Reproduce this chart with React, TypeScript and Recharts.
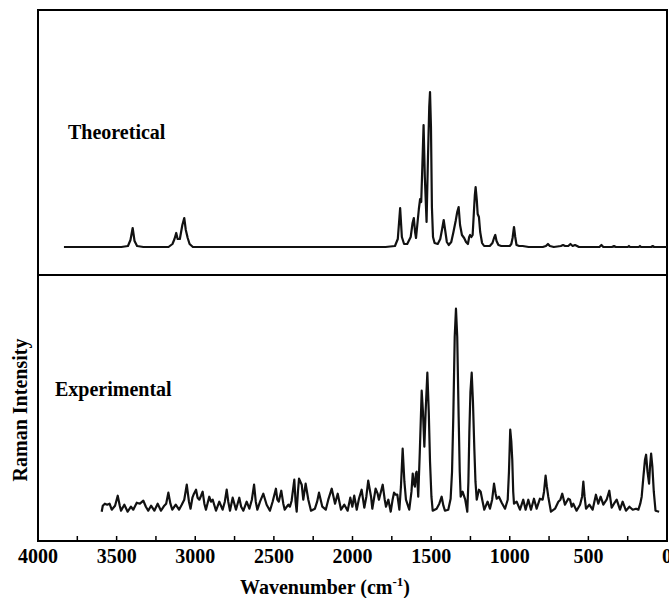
import React from 'react';
import { LineChart, Line, XAxis, YAxis, ReferenceArea } from 'recharts';

const FONT = "'Liberation Serif', 'Times New Roman', serif";

// Theoretical spectrum (wavenumber cm-1, intensity in arbitrary units)
const theoWavenumber = [
  3835, 3470, 3428, 3412, 3398, 3386, 3370, 3330,
  3170, 3145, 3132, 3121, 3112, 3098, 3082, 3070, 3060, 3048, 3036, 3015,
  1790, 1730, 1712, 1697, 1686, 1672, 1652, 1630, 1618, 1610, 1602, 1596, 1588, 1578, 1570, 1563,
  1556, 1548, 1540, 1529, 1520, 1512, 1507, 1501, 1495, 1488, 1478, 1458, 1442, 1430, 1420, 1410,
  1400, 1388, 1372, 1358, 1344, 1334, 1325, 1316, 1304, 1290, 1278, 1266, 1258, 1252, 1244, 1236,
  1228, 1222, 1217, 1210, 1204, 1196, 1188, 1176, 1163, 1127, 1110, 1100, 1092, 1084, 1072, 1054,
  1000, 990, 982, 973, 965, 957, 940, 918, 880, 790, 770, 757, 745, 720, 675, 661, 648, 628, 614,
  600, 585, 572, 560, 430, 417, 405, 350, 337, 325, 250, 242, 235, 180, 172, 165, 100, 91, 82, 0,
];
const theoIntensity = [
  0, 0, 1, 7, 19, 6, 1, 0,
  0, 3, 8, 14, 8, 8, 22, 29, 17, 9, 3, 0,
  0, 1, 8, 39, 10, 3, 3, 10, 24, 29, 15, 9, 22, 38, 48, 45,
  80, 122, 70, 25, 90, 140, 155, 120, 40, 10, 4, 3, 8, 18, 27, 16,
  5, 2, 5, 15, 26, 35, 40, 22, 12, 9, 5, 3, 10, 12, 10, 12,
  35, 52, 60, 48, 33, 30, 15, 4, 1, 1, 4, 9, 12, 6, 2, 1,
  1, 3, 9, 20, 10, 2, 1, 1, 0, 0, 1, 3, 1, 0, 1, 2, 1, 1, 3,
  1, 2, 1, 0, 0, 2, 0, 0, 1, 0, 0, 1, 0, 0, 1, 0, 0, 1, 0, 0,
];

// Experimental spectrum
const expWavenumber = [
  3595, 3588, 3575, 3560, 3545, 3531, 3510, 3493, 3480, 3472, 3451, 3430, 3409, 3394, 3372, 3352,
  3330, 3314, 3299, 3281, 3260, 3239, 3218, 3197, 3185, 3171, 3158, 3146, 3124, 3103, 3086, 3070,
  3054, 3040, 3030, 3018, 3008, 2995, 2985, 2974, 2963, 2953, 2942, 2932, 2911, 2900, 2889, 2868,
  2847, 2826, 2812, 2800, 2790, 2779, 2762, 2741, 2720, 2708, 2694, 2673, 2656, 2640, 2626, 2615,
  2605, 2588, 2567, 2546, 2525, 2508, 2487, 2478, 2469, 2453, 2440, 2431, 2418, 2408, 2398, 2387,
  2370, 2362, 2355, 2347, 2340, 2323, 2313, 2298, 2281, 2264, 2239, 2225, 2213, 2192, 2170, 2154,
  2132, 2111, 2094, 2073, 2052, 2031, 2014, 2001, 1989, 1973, 1959, 1942, 1925, 1912, 1900, 1890,
  1882, 1874, 1853, 1840, 1832, 1808, 1795, 1787, 1772, 1757, 1745, 1736, 1725, 1715, 1702, 1692,
  1681, 1670, 1660, 1639, 1625, 1617, 1610, 1603, 1597, 1592, 1587, 1582, 1572, 1560, 1552, 1543,
  1535, 1524, 1515, 1507, 1498, 1490, 1465, 1448, 1433, 1422, 1412, 1391, 1376, 1367, 1359, 1350,
  1342, 1334, 1325, 1318, 1312, 1300, 1283, 1270, 1263, 1257, 1250, 1242, 1234, 1225, 1218, 1210,
  1196, 1185, 1175, 1162, 1141, 1126, 1112, 1100, 1090, 1083, 1069, 1051, 1030, 1013, 1005, 997,
  990, 984, 978, 973, 956, 935, 914, 899, 882, 865, 846, 829, 808, 791, 782, 772,
  764, 755, 738, 712, 691, 678, 666, 649, 628, 617, 606, 596, 575, 553, 540, 532,
  524, 515, 494, 473, 452, 437, 422, 405, 384, 367, 352, 337, 320, 299, 282, 261,
  239, 218, 197, 182, 170, 161, 150, 140, 133, 124, 114, 108, 101, 93, 84, 73, 50,
];
const expIntensity = [
  0, 6, 8, 7, 8, 2, 6, 16, 6, 1, 7, 0, 5, 2, 9, 8,
  11, 5, 1, 6, 1, 8, 1, 6, 8, 19, 8, 2, 7, 2, 7, 12,
  27, 10, 3, 14, 18, 22, 14, 12, 16, 20, 8, 2, 15, 10, 12, 1,
  10, 2, 10, 22, 10, 1, 14, 2, 14, 5, 1, 10, 3, 12, 27, 10,
  2, 10, 18, 7, 1, 10, 23, 12, 10, 21, 8, 2, 5, 7, 5, 11,
  32, 10, 0, 20, 33, 27, 12, 28, 12, 1, 3, 10, 19, 5, 2, 12,
  23, 8, 18, 2, 7, 1, 14, 5, 16, 2, 13, 22, 4, 15, 31, 22,
  15, 3, 23, 18, 12, 27, 12, 5, 12, 0, 12, 19, 17, 17, 2, 25,
  63, 30, 12, 2, 20, 38, 28, 25, 38, 40, 30, 15, 60, 121, 100, 65,
  100, 139, 100, 50, 15, 1, 3, 8, 15, 6, 1, 2, 13, 40, 95, 175,
  203, 175, 95, 40, 15, 20, 12, 0, 30, 79, 120, 139, 110, 62, 30, 12,
  22, 20, 12, 2, 10, 3, 12, 28, 18, 13, 15, 9, 3, 12, 40, 82,
  70, 52, 20, 8, 10, 2, 12, 2, 12, 2, 13, 3, 13, 12, 20, 36,
  25, 15, 0, 3, 10, 12, 18, 7, 13, 12, 5, 8, 1, 7, 15, 30,
  15, 3, 7, 2, 17, 8, 15, 7, 12, 21, 4, 8, 12, 2, 10, 1,
  5, 2, 3, 2, 8, 15, 35, 52, 57, 40, 28, 45, 58, 45, 20, 1, 0,
];

const xTicks = [4000, 3750, 3500, 3250, 3000, 2750, 2500, 2250, 2000, 1750, 1500, 1250, 1000, 750, 500, 250, 0];
const labeledTicks = [4000, 3500, 3000, 2500, 2000, 1500, 1000, 500, 0];

const theoData = theoWavenumber.map((w, i) => ({ w, v: theoIntensity[i] }));
const expData = expWavenumber.map((w, i) => ({ w, v: expIntensity[i] }));

const THEO_DOMAIN: [number, number] = [-28, 237];
const EXP_DOMAIN: [number, number] = [-29.3, 236.7];

const BottomTick = (props: any) => {
  const { x, y, payload } = props;
  const v = payload.value;
  return (
    <g>
      <line x1={x} x2={x} y1={y} y2={y - 5} stroke="#000" strokeWidth={1.5} />
      {labeledTicks.includes(v) && (
        <text x={x} y={y + 22} textAnchor="middle" fontFamily={FONT} fontWeight="bold" fontSize={20} fill="#000">
          {v}
        </text>
      )}
    </g>
  );
};

const TopTick = (props: any) => {
  const { x, y } = props;
  return <line x1={x} x2={x} y1={y} y2={y + 5} stroke="#000" strokeWidth={1.5} />;
};

export default function App() {
  return (
    <div style={{ position: 'absolute', left: 0, top: 0, width: 669, height: 598, background: '#fff', overflow: 'hidden' }}>
      <div style={{ position: 'absolute', left: 0, top: 0 }}>
        <LineChart width={669} height={276} data={theoData} margin={{ top: 10, right: 2, bottom: 1, left: 38 }}>
          <XAxis dataKey="w" type="number" domain={[0, 4000]} reversed allowDataOverflow hide />
          <YAxis type="number" domain={THEO_DOMAIN} allowDataOverflow hide />
          <ReferenceArea x1={4000} x2={0} y1={THEO_DOMAIN[0]} y2={THEO_DOMAIN[1]} fill="none" stroke="#000" strokeWidth={2} strokeOpacity={1} fillOpacity={0} ifOverflow="visible" />
          <Line type="linear" dataKey="v" stroke="#111" strokeWidth={2.2} dot={false} isAnimationActive={false} strokeLinejoin="round" />
        </LineChart>
      </div>
      <div style={{ position: 'absolute', left: 0, top: 275 }}>
        <LineChart width={669} height={323} data={expData} margin={{ top: 0, right: 2, bottom: 0, left: 38 }}>
          <XAxis dataKey="w" type="number" domain={[0, 4000]} reversed allowDataOverflow ticks={xTicks} interval={0}
            tickLine={false} axisLine={false} tickSize={0} tickMargin={0} height={57} tick={<BottomTick />} />
          <XAxis xAxisId="top" orientation="top" dataKey="w" type="number" domain={[0, 4000]} reversed allowDataOverflow ticks={xTicks} interval={0}
            tickLine={false} axisLine={false} tickSize={0} tickMargin={0} height={0} tick={<TopTick />} />
          <YAxis type="number" domain={EXP_DOMAIN} allowDataOverflow hide />
          <ReferenceArea x1={4000} x2={0} y1={EXP_DOMAIN[0]} y2={EXP_DOMAIN[1]} fill="none" stroke="#000" strokeWidth={2} strokeOpacity={1} fillOpacity={0} ifOverflow="visible" />
          <Line type="linear" dataKey="v" stroke="#111" strokeWidth={2.2} dot={false} isAnimationActive={false} strokeLinejoin="round" />
        </LineChart>
      </div>
      <svg width={669} height={598} style={{ position: 'absolute', left: 0, top: 0, pointerEvents: 'none' }}>
        <text x={68} y={139} fontFamily={FONT} fontWeight="bold" fontSize={20} fill="#000">Theoretical</text>
        <text x={55} y={396} fontFamily={FONT} fontWeight="bold" fontSize={20} fill="#000">Experimental</text>
        <text x={27} y={410} transform="rotate(-90, 27, 410)" textAnchor="middle" fontFamily={FONT} fontWeight="bold" fontSize={20} fill="#000">Raman Intensity</text>
        <text x={325} y={594} textAnchor="middle" fontFamily={FONT} fontWeight="bold" fontSize={20} fill="#000">
          Wavenumber (cm<tspan fontSize={13} dy={-8}>-1</tspan><tspan dy={8}>)</tspan>
        </text>
      </svg>
    </div>
  );
}
